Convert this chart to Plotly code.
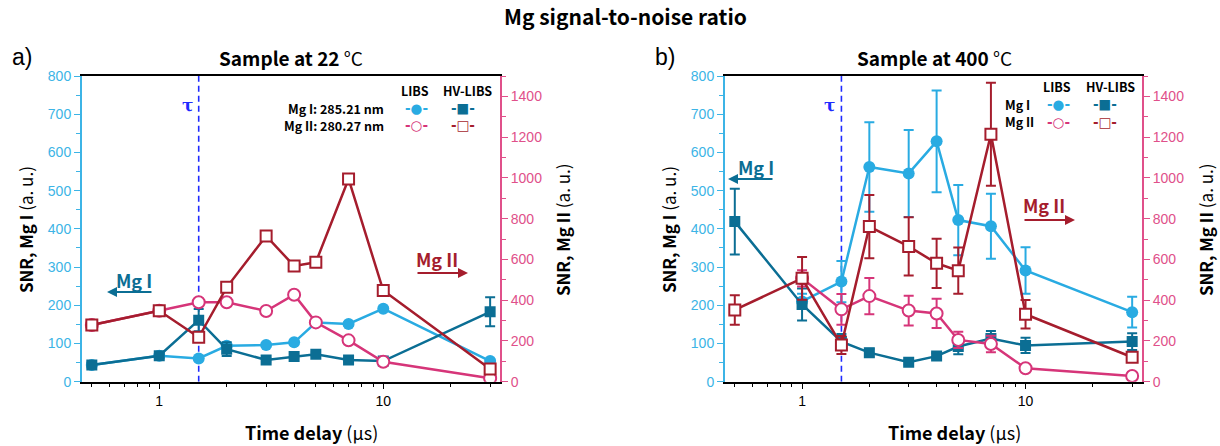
import math
import plotly.graph_objects as go

# ---------------- data ----------------
t_delay = [0.5, 1, 1.5, 2, 3, 4, 5, 7, 10, 30]
tau = 1.5
x_major_ticks = [1, 10]
x_major_text = ["1", "10"]
x_minor_ticks = [0.5, 0.6, 0.7, 0.8, 0.9, 2, 3, 4, 5, 6, 7, 8, 9, 20, 30]

# a) sample at 22 C
a_libs_mg1 = [44, 68, 61, 94, 96, 103, 155, 151, 191, 54]
a_libs_mg1_err = [4, 4, 4, 6, 5, 5, 8, 5, 5, 4]
a_hv_mg1 = [44, 68, 161, 85, 57, 66, 72, 57, 54, 183]
a_hv_mg1_err = [8, 8, 29, 18, 5, 5, 5, 5, 5, 38]
a_libs_mg2 = [278, 348, 390, 390, 347, 427, 291, 203, 98, 17]
a_libs_mg2_err = [8, 8, 10, 10, 10, 10, 10, 10, 8, 6]
a_hv_mg2 = [278, 348, 218, 463, 715, 568, 586, 995, 447, 62]
a_hv_mg2_err = [10, 10, 12, 10, 8, 8, 8, 10, 10, 10]

# b) sample at 400 C
b_libs_mg1 = [None, 210, 262, 562, 545, 629, 423, 407, 291, 182]
b_libs_mg1_err = [0, 20, 54, 117, 114, 133, 92, 85, 61, 40]
b_hv_mg1 = [419, 202, 105, 76, 51, 67, 92, 113, 95, 105]
b_hv_mg1_err = [86, 42, 20, 10, 6, 8, 20, 20, 20, 22]
b_libs_mg2 = [None, 507, 355, 420, 349, 335, 205, 185, 66, 28]
b_libs_mg2_err = [0, 40, 75, 89, 73, 72, 40, 40, 10, 8]
b_hv_mg2 = [352, 507, 180, 761, 664, 581, 545, 1214, 331, 120]
b_hv_mg2_err = [72, 105, 44, 155, 143, 121, 114, 253, 70, 20]

y1_range = [0, 800]
y2_range = [0, 1500]

# ---------------- style ----------------
W, H = 1220, 446
C_LIBS1 = "#29ABE2"
C_HV1 = "#0B6E94"
C_LIBS2 = "#D63579"
C_HV2 = "#A51D2D"
C_AX1 = "#3CB4E6"
C_AX2 = "#E0508A"
C_TAU = "#1F2BFF"
TITLE_FONT = "Noto Sans CJK JP"
TICK_FONT = "Liberation Sans"


def px_x(p):
    return p / W


def px_y(p):
    return 1 - p / H


fig = go.Figure()

panels = [
    dict(xa="x", ya="y", ya2="y2",
         d=(a_libs_mg1, a_libs_mg1_err, a_hv_mg1, a_hv_mg1_err,
            a_libs_mg2, a_libs_mg2_err, a_hv_mg2, a_hv_mg2_err)),
    dict(xa="x2", ya="y3", ya2="y4",
         d=(b_libs_mg1, b_libs_mg1_err, b_hv_mg1, b_hv_mg1_err,
            b_libs_mg2, b_libs_mg2_err, b_hv_mg2, b_hv_mg2_err)),
]

for p in panels:
    l1, l1e, h1, h1e, l2, l2e, h2, h2e = p["d"]
    # tau line
    fig.add_trace(go.Scatter(x=[tau, tau], y=y1_range, mode="lines",
                             line=dict(color=C_TAU, width=1.6, dash="6px,4px"),
                             xaxis=p["xa"], yaxis=p["ya"], showlegend=False, hoverinfo="skip"))
    fig.add_trace(go.Scatter(x=t_delay, y=l1, mode="lines+markers",
                             line=dict(color=C_LIBS1, width=2.5),
                             marker=dict(symbol="circle", size=12, color=C_LIBS1),
                             error_y=dict(type="data", array=l1e, color=C_LIBS1, thickness=2, width=5),
                             xaxis=p["xa"], yaxis=p["ya"], showlegend=False))
    fig.add_trace(go.Scatter(x=t_delay, y=h1, mode="lines+markers",
                             line=dict(color=C_HV1, width=2.5),
                             marker=dict(symbol="square", size=11, color=C_HV1),
                             error_y=dict(type="data", array=h1e, color=C_HV1, thickness=2, width=5),
                             xaxis=p["xa"], yaxis=p["ya"], showlegend=False))
    fig.add_trace(go.Scatter(x=t_delay, y=l2, mode="lines+markers",
                             line=dict(color=C_LIBS2, width=2.5),
                             marker=dict(symbol="circle", size=12, color="white",
                                         line=dict(color=C_LIBS2, width=2)),
                             error_y=dict(type="data", array=l2e, color=C_LIBS2, thickness=2, width=5),
                             xaxis=p["xa"], yaxis=p["ya2"], showlegend=False))
    fig.add_trace(go.Scatter(x=t_delay, y=h2, mode="lines+markers",
                             line=dict(color=C_HV2, width=2.5),
                             marker=dict(symbol="square", size=11, color="white",
                                         line=dict(color=C_HV2, width=2)),
                             error_y=dict(type="data", array=h2e, color=C_HV2, thickness=2, width=5),
                             xaxis=p["xa"], yaxis=p["ya2"], showlegend=False))

x_range = [math.log10(0.452), math.log10(33.2)]
dom_y = [px_y(381.7), px_y(76)]
doms_x = [[px_x(82), px_x(500)], [px_x(725), px_x(1142)]]

xcommon = dict(type="log", range=x_range, tickvals=x_major_ticks, ticktext=x_major_text,
               ticks="outside", ticklen=6, tickwidth=1.2, tickcolor="black",
               showline=True, linecolor="black", linewidth=1.5, mirror=True,
               showgrid=False, zeroline=False, automargin=False,
               tickfont=dict(family=TICK_FONT, size=14, color="black"),
               minor=dict(tickvals=x_minor_ticks, ticks="outside", ticklen=4,
                          tickcolor="black", tickwidth=1, showgrid=False))
y1common = dict(range=y1_range, dtick=100, ticks="outside", ticklen=6, tickwidth=1.2,
                tickcolor=C_AX1, showline=True, linecolor=C_AX1, linewidth=2,
                showgrid=False, zeroline=False, automargin=False,
                tickfont=dict(family=TICK_FONT, size=14, color=C_AX1),
                minor=dict(dtick=50, ticks="outside", ticklen=4, tickcolor=C_AX1,
                           tickwidth=1, showgrid=False))
y2common = dict(range=y2_range, dtick=200, ticks="outside", ticklen=6, tickwidth=1.2,
                tickcolor=C_AX2, showline=True, linecolor=C_AX2, linewidth=2,
                showgrid=False, zeroline=False, automargin=False, side="right",
                tickfont=dict(family=TICK_FONT, size=14, color=C_AX2),
                minor=dict(dtick=100, ticks="outside", ticklen=4, tickcolor=C_AX2,
                           tickwidth=1, showgrid=False))

fig.update_layout(
    width=W, height=H, margin=dict(l=0, r=0, t=0, b=0),
    paper_bgcolor="white", plot_bgcolor="white", showlegend=False,
    xaxis=dict(domain=doms_x[0], anchor="y", **xcommon),
    xaxis2=dict(domain=doms_x[1], anchor="y3", **xcommon),
    yaxis=dict(domain=dom_y, anchor="x", **y1common),
    yaxis2=dict(domain=dom_y, anchor="x", overlaying="y", **y2common),
    yaxis3=dict(domain=dom_y, anchor="x2", **y1common),
    yaxis4=dict(domain=dom_y, anchor="x2", overlaying="y3", **y2common),
)

ann = []


def text(x, y, s, size, color="black", xanchor="center", yanchor="middle",
         family=TITLE_FONT, angle=0):
    ann.append(dict(x=px_x(x), y=px_y(y), xref="paper", yref="paper", text=s,
                    showarrow=False, xanchor=xanchor, yanchor=yanchor, textangle=angle,
                    font=dict(family=family, size=size, color=color)))


def arrow(x_head, x_tail, y, color):
    ann.append(dict(x=px_x(x_head), y=px_y(y), xref="paper", yref="paper", text="",
                    showarrow=True, arrowhead=2, arrowsize=1, arrowwidth=2,
                    arrowcolor=color, ax=x_tail - x_head, ay=0))


text(625, 16, "<b>Mg signal-to-noise ratio</b>", 21)

for off, lab, temp in [(0, "a)", "22"), (643, "b)", "400")]:
    text(10 + off, 57, lab, 23, xanchor="left", family=TICK_FONT)
    text(291 + off, 57, "<b>Sample at " + temp + "</b> °C", 19)
    text(311 + off, 432, "<b>Time delay</b> (µs)", 18)
    text(25 + off, 230, "<b>SNR, Mg I</b> (a. u.)", 17, angle=-90)
    text(562 + off, 230, "<b>SNR, Mg II</b> (a. u.)", 17, angle=-90)

# tau labels (positioned at the tau delay on each x axis)
for xr, yr in [("x", "y"), ("x2", "y3")]:
    ann.append(dict(x=math.log10(tau), y=724, xref=xr, yref=yr, text="<b>τ</b>",
                    showarrow=False, xanchor="right", xshift=-4,
                    font=dict(family="DejaVu Serif", size=17, color=C_TAU)))

# Mg I / Mg II arrows
text(134, 280, "<b>Mg I</b>", 18, color=C_HV1)
arrow(107, 153, 292, C_HV1)
text(437, 259, "<b>Mg II</b>", 18, color=C_HV2)
arrow(468, 416, 273, C_HV2)

text(756, 167, "<b>Mg I</b>", 18, color=C_HV1)
arrow(728, 774, 179, C_HV1)
text(1044, 205, "<b>Mg II</b>", 18, color=C_HV2)
arrow(1075, 1023, 220, C_HV2)

# legends
text(415, 90, "<b>LIBS</b>", 12.5)
text(467, 90, "<b>HV-LIBS</b>", 12.5)
text(386, 108, "<b>Mg I: 285.21 nm</b>", 12.5, xanchor="right")
text(386, 125.5, "<b>Mg II: 280.27 nm</b>", 12.5, xanchor="right")
text(416, 108, "<b>-●-</b>", 13.5, color=C_LIBS1, family="DejaVu Sans")
text(463, 108, "<b>-■-</b>", 13.5, color=C_HV1, family="DejaVu Sans")
text(416, 125.5, "<b>-○-</b>", 13.5, color=C_LIBS2, family="DejaVu Sans")
text(463, 125.5, "<b>-□-</b>", 13.5, color=C_HV2, family="DejaVu Sans")

text(1057, 86, "<b>LIBS</b>", 12.5)
text(1110, 86, "<b>HV-LIBS</b>", 12.5)
text(1003, 104, "<b>Mg I</b>", 12.5, xanchor="left")
text(1003, 121.5, "<b>Mg II</b>", 12.5, xanchor="left")
text(1058, 104, "<b>-●-</b>", 13.5, color=C_LIBS1, family="DejaVu Sans")
text(1105, 104, "<b>-■-</b>", 13.5, color=C_HV1, family="DejaVu Sans")
text(1058, 121.5, "<b>-○-</b>", 13.5, color=C_LIBS2, family="DejaVu Sans")
text(1105, 121.5, "<b>-□-</b>", 13.5, color=C_HV2, family="DejaVu Sans")

fig.update_layout(annotations=ann)
fig.write_html("out.html", config={"displayModeBar": False},
               post_script="document.body.style.margin='0';document.body.style.overflow='hidden';")
